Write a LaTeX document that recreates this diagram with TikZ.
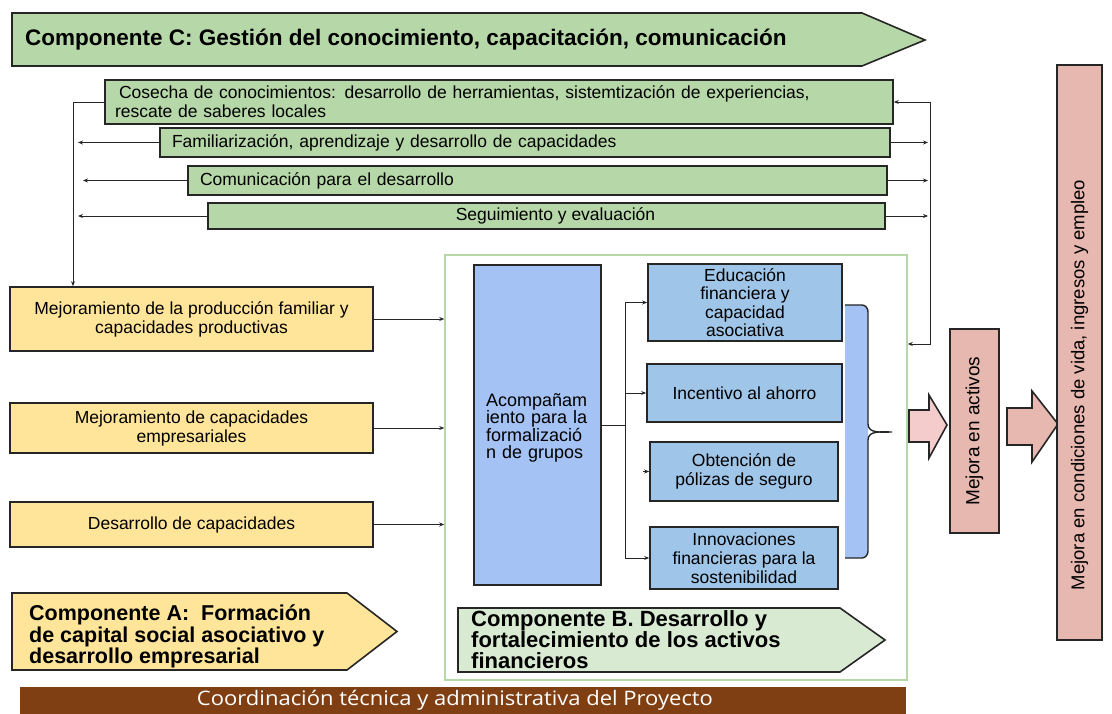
\documentclass[tikz,border=0pt]{standalone}
\usepackage{graphicx}
\usepackage{fontspec}
\setmainfont{Liberation Sans}
\newfontfamily\barfont{Open Sans}
\usetikzlibrary{arrows.meta}
\definecolor{cgreen}{HTML}{B6D7A8}
\definecolor{lgreen}{HTML}{D9EAD3}
\definecolor{cyellow}{HTML}{FFE599}
\definecolor{cblue}{HTML}{A4C2F4}
\definecolor{sblue}{HTML}{9FC5E8}
\definecolor{cpink}{HTML}{E6B8AF}
\definecolor{lpink}{HTML}{F4CCCC}
\definecolor{cbrown}{HTML}{7F3F12}
\definecolor{ink}{HTML}{262626}
\tikzset{
  bx/.style={draw=ink, line width=1.6pt},
  box/.style={bx, inner sep=0pt, font=\fontsize{17.5}{19}\selectfont},
  big/.style={font=\bfseries\fontsize{22.5}{20}\selectfont, align=left, inner sep=0pt},
  conn/.style={draw=ink, line width=0.9pt},
  arr/.style={conn, -{Stealth[length=5pt,width=4pt]}},
}
\begin{document}
\begin{tikzpicture}[x=1pt,y=-1pt]
\useasboundingbox (0,0) rectangle (1112,714);

% Component C
\draw[bx, fill=cgreen] (12,13) -- (862,13) -- (925,40) -- (862,66) -- (12,66) -- cycle;
\node[big, anchor=west] (compC) at (25,40) {Componente C: Gestión del conocimiento, capacitación, comunicación};

% green rows
\node[box, fill=cgreen, minimum width=788, minimum height=44, text width=768, inner xsep=10pt, align=left] (cosecha) at (499,102)
  {\hspace*{4pt}Cosecha de conocimientos: desarrollo de herramientas, sistemtización de experiencias,\\rescate de saberes locales};
\node[box, fill=cgreen, minimum width=730, minimum height=29, text width=706, inner xsep=12pt, align=left] (fam) at (525,142.5)
  {Familiarización, aprendizaje y desarrollo de capacidades};
\node[box, fill=cgreen, minimum width=699, minimum height=29, text width=675, inner xsep=12pt, align=left] (com) at (537.5,180.5)
  {Comunicación para el desarrollo};
\node[box, fill=cgreen, minimum width=677, minimum height=26] (seg) at (546.5,216)
  {\hspace*{18pt}Seguimiento y evaluación};

% yellow boxes
\node[box, fill=cyellow, minimum width=363, minimum height=64, align=center] (y1) at (191.5,319)
  {Mejoramiento de la producción familiar y\\capacidades productivas};
\node[box, fill=cyellow, minimum width=363, minimum height=50, align=center] (y2) at (191.5,428)
  {Mejoramiento de capacidades\\empresariales};
\node[box, fill=cyellow, minimum width=363, minimum height=45] (y3) at (191.5,524.5)
  {Desarrollo de capacidades};

% left feedback
\coordinate (lt) at (73,102);
\draw[arr] (cosecha.west) -- (lt) -- (lt |- y1.north);
\draw[arr] (fam.west) -- (78,142.5);
\draw[arr] (com.west) -- (83,180.5);
\draw[arr] (seg.west) -- (78,216);

% container B
\node[draw=cgreen, line width=1.5pt, minimum width=462, minimum height=425, inner sep=0pt] (cont) at (676,467.5) {};

% right feedback
\coordinate (rt) at (930,102);
\draw[arr] (rt) -- (cosecha.east);
\draw[arr] (rt) -- (930,344) -- (cont.east |- 0,344);
\draw[arr] (fam.east) -- (928,142.5);
\draw[arr] (com.east) -- (928,180.5);
\draw[arr] (seg.east) -- (928,216);

% yellow to container
\draw[arr] (y1.east) -- (cont.west |- y1.east);
\draw[arr] (y2.east) -- (cont.west |- y2.east);
\draw[arr] (y3.east) -- (cont.west |- y3.east);

% blue big box
\node[box, fill=cblue, minimum width=127, minimum height=320, text width=111, inner xsep=8pt, align=left, font=\fontsize{18}{17.5}\selectfont] (acomp) at (537.5,425)
  {\hspace*{4pt}\rule{0pt}{19pt}Acompañam\\\hspace*{4pt}iento para la\\\hspace*{4pt}formalizació\\\hspace*{4pt}n de grupos};

% small boxes
\node[box, fill=sblue, minimum width=194, minimum height=77, align=center, font=\fontsize{17.5}{18.3}\selectfont] (edu) at (745,302.5)
  {Educación\\financiera y\\capacidad\\asociativa};
\node[box, fill=sblue, minimum width=195, minimum height=58] (inc) at (744.5,393)
  {Incentivo al ahorro};
\node[box, fill=sblue, minimum width=188, minimum height=59, align=center] (obt) at (744,471.5)
  {Obtención de\\pólizas de seguro};
\node[box, fill=sblue, minimum width=188, minimum height=62, align=center] (inn) at (744,558)
  {Innovaciones\\financieras para la\\sostenibilidad};

\coordinate (j) at (625,425);
\draw[conn] (acomp.east |- j) -- (j);
\draw[conn] (625,302.5) -- (625,558);
\draw[arr] (625,302.5) -- (edu.west);
\draw[arr] (625,393) -- (inc.west);
\draw[arr] (643,471.5) -- (obt.west);
\draw[arr] (625,558) -- (inn.west);

% bracket
\fill[cblue] (845,305) -- (862,305) to[out=0,in=90] (868,312) -- (868,425) -- (868,440) -- (868,551) to[out=-90,in=0] (862,558) -- (845,558) -- cycle;
\draw[conn, line width=1.4pt] (845,305) -- (862,305) to[out=0,in=90] (868,312) -- (868,424) to[out=-90,in=180] (892,432) to[out=180,in=90] (868,440) -- (868,551) to[out=-90,in=0] (862,558) -- (845,558);

% Component B
\draw[bx, fill=lgreen] (458,608) -- (840,608) -- (885,640) -- (840,672) -- (458,672) -- cycle;
\node[big, anchor=north west, font=\bfseries\fontsize{22}{21}\selectfont] (compB) at (471,610) {Componente B. Desarrollo y\\fortalecimiento de los activos\\financieros};

% Component A
\draw[bx, fill=cyellow] (12,593) -- (347,593) -- (397,631.5) -- (347,670) -- (12,670) -- cycle;
\node[big, anchor=north west, font=\bfseries\fontsize{21.5}{20}\selectfont] (compA) at (29,605) {Componente A:\ \ Formación\\de capital social asociativo y\\desarrollo empresarial};

% pink arrows
\draw[bx, fill=lpink] (909,410) -- (929,410) -- (929,395) -- (947,425) -- (929,458) -- (929,442) -- (909,442) -- cycle;
\draw[bx, fill=cpink] (1007,408) -- (1032,408) -- (1032,391) -- (1058,424) -- (1032,462) -- (1032,445) -- (1007,445) -- cycle;

% outcome boxes
\node[box, fill=cpink, rotate=90, minimum width=204, minimum height=49, font=\fontsize{19}{21}\selectfont] (act) at (974.5,431) {Mejora en activos};
\node[box, fill=cpink, minimum width=45, minimum height=575] (vida) at (1079.5,352.5) {};
\node[rotate=90, inner sep=0pt, font=\fontsize{18.5}{20}\selectfont] (vidat) at (1079.5,385) {Mejora en condiciones de vida, ingresos y empleo};

% bottom bar
\node[fill=cbrown, minimum width=886, minimum height=27, inner sep=0pt] (bar) at (463,700.5) {};
\node[text=white, inner sep=0pt, font=\barfont\fontsize{20}{22}\selectfont] (coord) at (455,700.5) {\scalebox{1.1}[1]{Coordinación técnica y administrativa del Proyecto}};
\end{tikzpicture}
\end{document}
